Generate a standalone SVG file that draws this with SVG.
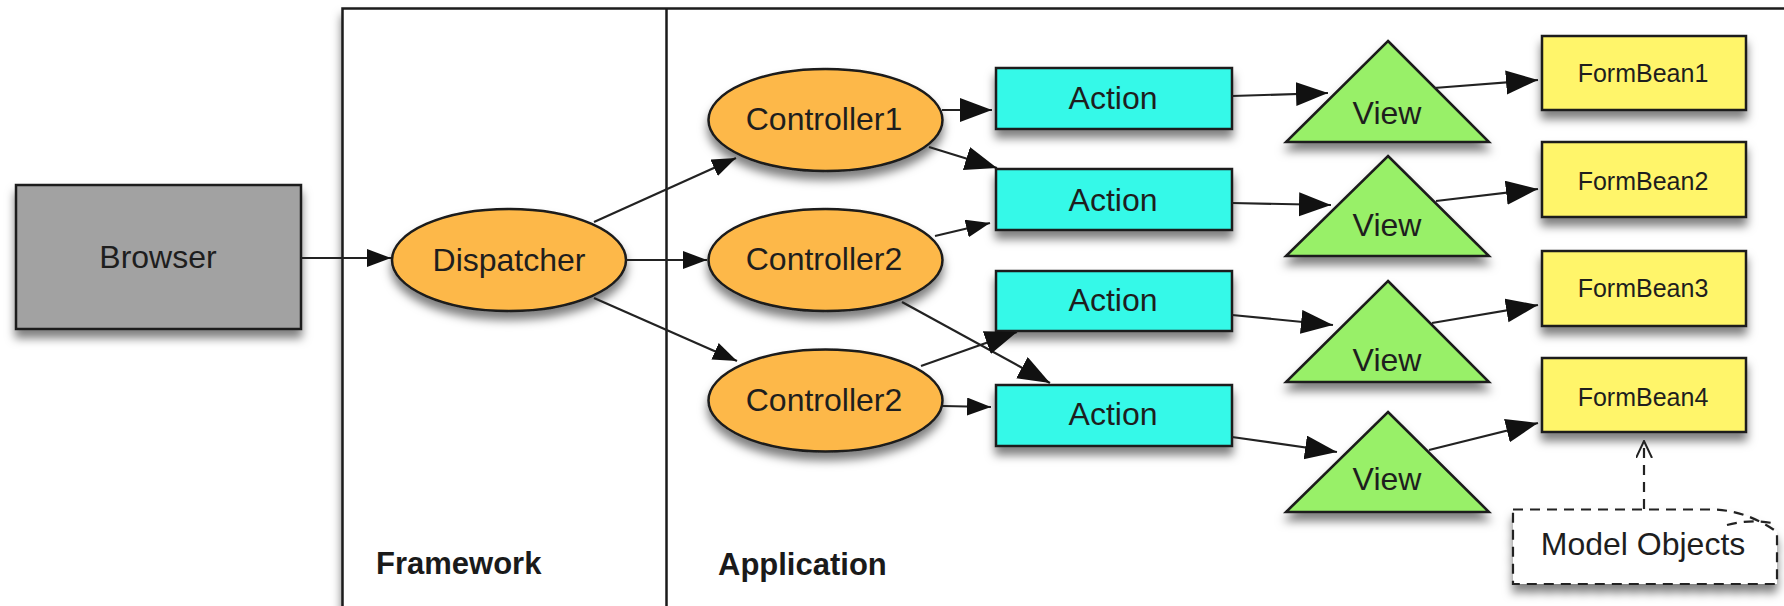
<svg xmlns="http://www.w3.org/2000/svg" width="1784" height="606" viewBox="0 0 1784 606">
<style>
  .lbl { font-family: "Liberation Sans", Arial, Helvetica, sans-serif; font-size: 32px; fill: #1e1e1e; text-anchor: middle; }
  .small { font-size: 25px; }
  .title { font-family: "Liberation Sans", Arial, Helvetica, sans-serif; font-size: 31px; font-weight: bold; fill: #1a1a1a; }
  .node { stroke: #1a1a1a; stroke-width: 2.5; filter: url(#shadow); }
  .browser { fill: #a2a2a2; }
  .ctrl { fill: #fdb848; }
  .action { fill: #36f9e8; }
  .view { fill: #98f068; stroke-linejoin: miter; }
  .bean { fill: #fff56a; }
  .conn { stroke: #222; stroke-width: 2.2; fill: none; marker-end: url(#arrow); }
  .conn.sm { marker-end: url(#arrowSm); }
  .dash { stroke: #222; stroke-width: 2.2; fill: none; stroke-dasharray: 10 7; }
</style>
<defs>
  <filter id="shadow" x="-20%" y="-30%" width="140%" height="170%">
    <feDropShadow dx="0" dy="8" stdDeviation="5" flood-color="#000" flood-opacity="0.5"/>
  </filter>
  <marker id="arrow" markerUnits="userSpaceOnUse" markerWidth="34" markerHeight="26" refX="32" refY="12" orient="auto">
    <path d="M0,0 L32,12 L0,24 Z" fill="#111"/>
  </marker>
  <marker id="arrowSm" markerUnits="userSpaceOnUse" markerWidth="26" markerHeight="20" refX="24" refY="9" orient="auto">
    <path d="M0,0 L24,9 L0,18 Z" fill="#111"/>
  </marker>
  <marker id="open" markerUnits="userSpaceOnUse" markerWidth="18" markerHeight="24" refX="17" refY="8" orient="auto">
    <path d="M0,0 L17,8 L0,16" fill="none" stroke="#222" stroke-width="2"/>
  </marker>
</defs>
<rect width="1784" height="606" fill="#fff"/>

<g id="frame">
  <rect x="342.5" y="8.5" width="1600" height="700" fill="#fff" stroke="#1a1a1a" stroke-width="2.5" filter="url(#shadow)"/>
  <line x1="666.5" y1="8.5" x2="666.5" y2="606" stroke="#1a1a1a" stroke-width="2.5"/>
  <text class="title" x="376" y="574">Framework</text>
  <text class="title" x="718" y="575">Application</text>
</g>

<g id="browser">
  <rect class="node browser" x="16" y="185" width="285" height="144"/>
  <text class="lbl" x="158" y="268" fill="#222">Browser</text>
</g>

<g id="dispatcher">
  <ellipse class="node ctrl" cx="509" cy="260" rx="117" ry="51"/>
  <text class="lbl" x="509" y="271">Dispatcher</text>
</g>

<g id="controller1">
  <ellipse class="node ctrl" cx="825.5" cy="120" rx="117" ry="51"/>
  <text class="lbl" x="824" y="130">Controller1</text>
</g>
<g id="controller2a">
  <ellipse class="node ctrl" cx="825.5" cy="260" rx="117" ry="51"/>
  <text class="lbl" x="824" y="270">Controller2</text>
</g>
<g id="controller2b">
  <ellipse class="node ctrl" cx="825.5" cy="400.5" rx="117" ry="51"/>
  <text class="lbl" x="824" y="411">Controller2</text>
</g>

<g id="action1">
  <rect class="node action" x="996" y="68" width="236" height="61"/>
  <text class="lbl" x="1113" y="109">Action</text>
</g>
<g id="action2">
  <rect class="node action" x="996" y="169" width="236" height="61"/>
  <text class="lbl" x="1113" y="211">Action</text>
</g>
<g id="action3">
  <rect class="node action" x="996" y="271" width="236" height="60"/>
  <text class="lbl" x="1113" y="311">Action</text>
</g>
<g id="action4">
  <rect class="node action" x="996" y="385" width="236" height="61"/>
  <text class="lbl" x="1113" y="425">Action</text>
</g>

<g id="view1">
  <polygon class="node view" points="1388,41 1489,142 1286,142"/>
  <text class="lbl" x="1387" y="124">View</text>
</g>
<g id="view2">
  <polygon class="node view" points="1388,156 1489,256 1286,256"/>
  <text class="lbl" x="1387" y="236">View</text>
</g>
<g id="view3">
  <polygon class="node view" points="1388,281 1489,382 1286,382"/>
  <text class="lbl" x="1387" y="371">View</text>
</g>
<g id="view4">
  <polygon class="node view" points="1388,412 1489,512 1286,512"/>
  <text class="lbl" x="1387" y="490">View</text>
</g>

<g id="formbean1">
  <rect class="node bean" x="1542" y="36" width="204" height="74"/>
  <text class="lbl small" x="1643" y="82">FormBean1</text>
</g>
<g id="formbean2">
  <rect class="node bean" x="1542" y="142" width="204" height="75"/>
  <text class="lbl small" x="1643" y="190">FormBean2</text>
</g>
<g id="formbean3">
  <rect class="node bean" x="1542" y="251" width="204" height="75"/>
  <text class="lbl small" x="1643" y="297">FormBean3</text>
</g>
<g id="formbean4">
  <rect class="node bean" x="1542" y="358" width="204" height="74"/>
  <text class="lbl small" x="1643" y="406">FormBean4</text>
</g>

<g id="model-objects">
  <path d="M1513,509.5 H1712 Q1746,510 1777,532 V584 H1513 Z" fill="#fff" stroke="#222" stroke-width="2.2" stroke-dasharray="10 7" filter="url(#shadow)"/>
  <path d="M1727,525 Q1750,519 1772,523" class="dash"/>
  <text class="lbl" x="1643" y="555" fill="#444">Model Objects</text>
</g>

<g id="connectors">
  <line class="conn sm" x1="301" y1="258" x2="391" y2="258"/>
  <line class="conn sm" x1="594" y1="222" x2="736" y2="158"/>
  <line class="conn sm" x1="626" y1="260" x2="707" y2="260"/>
  <line class="conn sm" x1="594" y1="298" x2="737" y2="361"/>
  <line class="conn" x1="942" y1="110" x2="992" y2="110"/>
  <line class="conn" x1="929" y1="147" x2="997" y2="168"/>
  <line class="conn sm" x1="935" y1="236" x2="990" y2="223"/>
  <line class="conn" x1="902" y1="302" x2="1050" y2="383"/>
  <line class="conn" x1="921" y1="366" x2="1017" y2="332"/>
  <line class="conn sm" x1="943" y1="406" x2="991" y2="407"/>
  <line class="conn" x1="1232" y1="96" x2="1328" y2="93"/>
  <line class="conn" x1="1232" y1="203" x2="1331" y2="205"/>
  <line class="conn" x1="1232" y1="315" x2="1333" y2="325"/>
  <line class="conn" x1="1232" y1="437" x2="1337" y2="452"/>
  <line class="conn" x1="1434" y1="88" x2="1538" y2="80"/>
  <line class="conn" x1="1436" y1="201" x2="1538" y2="189"/>
  <line class="conn" x1="1432" y1="323" x2="1538" y2="305"/>
  <line class="conn" x1="1429" y1="450" x2="1538" y2="423"/>
  <line class="dash" x1="1644" y1="509" x2="1644" y2="441" marker-end="url(#open)"/>
</g>
</svg>
